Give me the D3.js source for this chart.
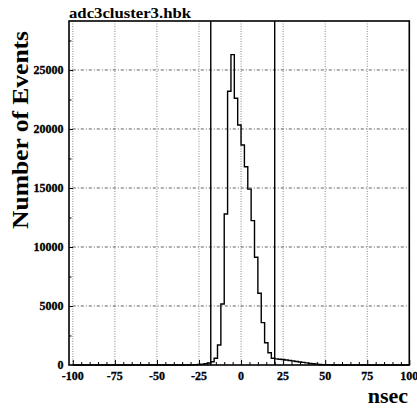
<!DOCTYPE html>
<html>
<head>
<meta charset="utf-8">
<script src="https://cdn.jsdelivr.net/npm/d3@7/dist/d3.min.js"></script>
<style>
  html, body { margin: 0; padding: 0; background: #fff; overflow: hidden; }
  svg { display: block; }
  text { font-family: "Liberation Serif", "DejaVu Serif", serif; font-weight: 700; fill: #000; }
</style>
</head>
<body>
<script>
// Histogram of adc3 cluster timing (2 nsec bins), with the two timing cuts.
const title = "adc3cluster3.hbk";
const xLabel = "nsec";
const yLabel = "Number of Events";
const xTicks = [-100, -75, -50, -25, 0, 25, 50, 75, 100];
const yTicks = [0, 5000, 10000, 15000, 20000, 25000];
const cutLines = [-18, 20];
const binStart = -30;
const binWidth = 2;
const counts = [10, 20, 40, 70, 110, 170, 280, 570, 1700, 5170,
                12800, 23200, 26300, 22600, 20340, 18640, 16800, 14900, 12230, 9130,
                6080, 3590, 1890, 1040, 570, 520, 490, 460, 420, 380,
                340, 300, 260, 220, 180, 140, 100, 70, 45, 25, 15, 8];

const W = 417, H = 409;
const frame = { left: 69, right: 409.3, top: 21, bottom: 365 };

const x = d3.scaleLinear().domain([-100, 100]).range([72.8, 409.3]);
const y = d3.scaleLinear().domain([0, 29150]).range([frame.bottom, frame.top]);

const svg = d3.select("body").append("svg").attr("width", W).attr("height", H);

// grid
const grid = svg.append("g");
grid.selectAll("line.vg").data(xTicks).join("line")
  .attr("x1", d => x(d)).attr("x2", d => x(d))
  .attr("y1", frame.top).attr("y2", frame.bottom)
  .attr("stroke", "#888").attr("stroke-width", 1).attr("stroke-dasharray", "1,1.5");
grid.selectAll("line.hg").data(yTicks.filter(d => d > 0)).join("line")
  .attr("x1", x(-100)).attr("x2", frame.right)
  .attr("y1", d => y(d)).attr("y2", d => y(d))
  .attr("stroke", "#333").attr("stroke-width", 0.8).attr("stroke-dasharray", "3,2,1,2");

// histogram outline
const pts = [[-100, 0], [binStart, 0]];
counts.forEach((c, i) => {
  pts.push([binStart + i * binWidth, c]);
  pts.push([binStart + (i + 1) * binWidth, c]);
});
pts.push([binStart + counts.length * binWidth, 0], [100, 0]);
svg.append("path")
  .attr("d", d3.line().x(d => x(d[0])).y(d => y(d[1]))(pts))
  .attr("fill", "none").attr("stroke", "#000").attr("stroke-width", 1.4)
  .attr("stroke-linejoin", "miter");

// cut lines
svg.selectAll("line.cut").data(cutLines).join("line")
  .attr("x1", d => x(d)).attr("x2", d => x(d))
  .attr("y1", frame.top).attr("y2", frame.bottom)
  .attr("stroke", "#000").attr("stroke-width", 1.4);

// axes (ticks pointing inward)
const xAxis = d3.axisTop(x).tickValues(d3.range(-100, 101, 5)).tickFormat("")
  .tickSize(3).tickSizeOuter(0);
const gx = svg.append("g").attr("transform", `translate(0,${frame.bottom})`).call(xAxis);
gx.select(".domain").remove();
gx.selectAll(".tick line").attr("stroke", "#000").attr("stroke-width", 1)
  .attr("y2", d => (d % 25 === 0 ? -5 : -3));

const yAxis = d3.axisRight(y).tickValues(d3.range(2500, 29000, 2500)).tickFormat("")
  .tickSize(3).tickSizeOuter(0);
const gy = svg.append("g").attr("transform", `translate(${frame.left},0)`).call(yAxis);
gy.select(".domain").remove();
gy.selectAll(".tick line").attr("stroke", "#000").attr("stroke-width", 1)
  .attr("x2", d => (d % 5000 === 0 ? 4 : 2.5));

// frame
svg.append("rect")
  .attr("x", frame.left).attr("y", frame.top)
  .attr("width", frame.right - frame.left).attr("height", frame.bottom - frame.top)
  .attr("fill", "none").attr("stroke", "#000").attr("stroke-width", 1.6);

// tick labels
svg.selectAll("text.xl").data(xTicks).join("text")
  .attr("x", d => x(d)).attr("y", 380)
  .attr("text-anchor", "middle").attr("font-size", 12).attr("font-weight", 700)
  .attr("stroke", "#000").attr("stroke-width", 0.3)
  .text(d => d);
svg.selectAll("text.yl").data(yTicks).join("text")
  .attr("x", 63.5).attr("y", d => y(d) + 4)
  .attr("text-anchor", "end").attr("font-size", 12).attr("font-weight", 700)
  .attr("stroke", "#000").attr("stroke-width", 0.3)
  .text(d => d);

// titles
svg.append("text").attr("x", 69).attr("y", 18).attr("font-size", 14)
  .attr("textLength", 122).attr("lengthAdjust", "spacingAndGlyphs").text(title);
svg.append("text").attr("x", 408).attr("y", 403).attr("text-anchor", "end")
  .attr("font-size", 22).text(xLabel);
svg.append("text")
  .attr("transform", "translate(28,130) rotate(-90)")
  .attr("text-anchor", "middle").attr("font-size", 24)
  .attr("textLength", 198).attr("lengthAdjust", "spacingAndGlyphs").text(yLabel);
</script>
</body>
</html>
